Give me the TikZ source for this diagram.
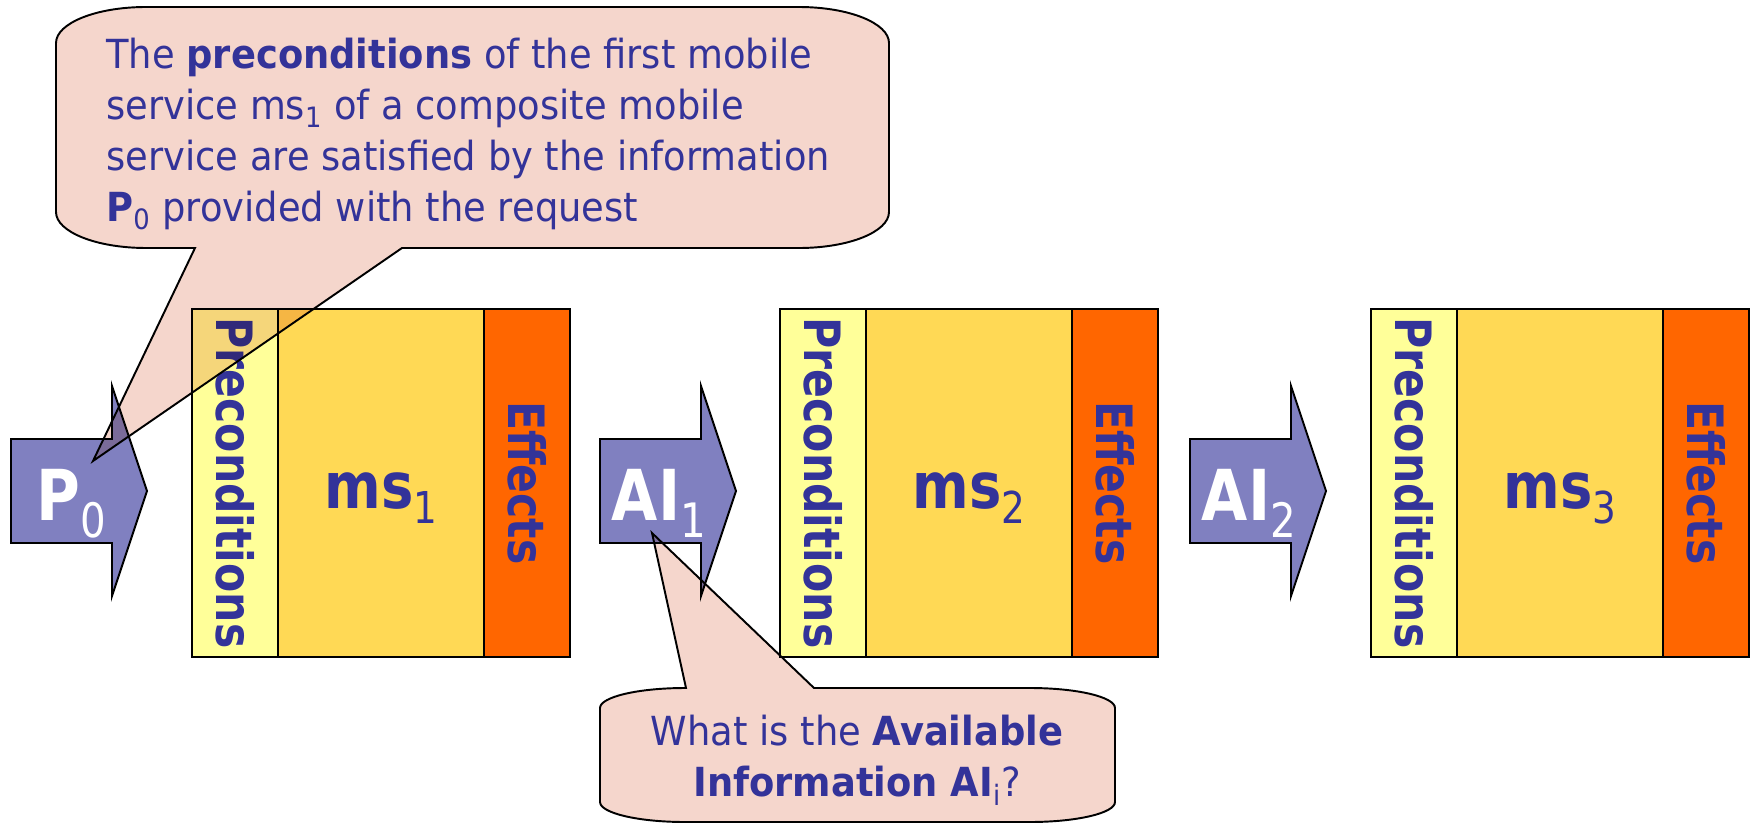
\documentclass[tikz,border=0pt]{standalone}
\usepackage{fontspec}
\usepackage{tikz}

\newfontfamily\boxfont[FakeStretch = 0.85]{DejaVu Sans}
\newfontfamily\notefont[FakeStretch = 0.92]{DejaVu Sans}

\definecolor{textblue}{HTML}{333399}
\definecolor{flowblue}{HTML}{8080C0}
\definecolor{prefill}{HTML}{FFFF99}
\definecolor{corefill}{HTML}{FFD955}
\definecolor{efffill}{HTML}{FF6600}
\definecolor{notefill}{HTML}{F5D6CC}

% lowered index in the big labels
\newcommand{\idx}[2][25]{\raisebox{-0.25em}{\fontsize{#1}{#1}\selectfont\mdseries #2}}

\begin{document}
\begin{tikzpicture}[x = 0.02cm, y = 0.02cm,
    strip/.style = {draw, line width = 1.1pt, rotate = -90, inner sep = 0pt,
        minimum width = 6.96cm, minimum height = 1.72cm, text = textblue,
        font = \boxfont\bfseries\fontsize{28.5}{30}\selectfont},
    pre/.style = {strip, fill = prefill},
    eff/.style = {strip, fill = efffill},
    core/.style = {draw, line width = 1.1pt, fill = corefill, inner sep = 0pt,
        minimum width = 4.12cm, minimum height = 6.96cm, text = textblue,
        text height = 1.2cm, text depth = 0.2cm,
        font = \boxfont\bfseries\fontsize{36.4}{38}\selectfont},
    flow/.style = {draw, line width = 1.1pt, fill = flowblue},
    flowtext/.style = {inner sep = 0pt, text = white,
        font = \boxfont\bfseries\fontsize{40}{42}\selectfont},
    note/.style = {draw, line width = 1.1pt, fill = notefill},
    notetext/.style = {inner sep = 0pt, text = textblue,
        font = \notefont\fontsize{22.8}{29}\selectfont}]

    \useasboundingbox (0, 0) rectangle (1753, 823);

    % the three services
    \node[pre] (pre1) at (235, 340) {Preconditions};
    \node[core] (ms1) at (381, 340) {ms\idx{1}};
    \node[eff] (eff1) at (527, 340) {Effects};

    \node[pre] (pre2) at (823, 340) {Preconditions};
    \node[core] (ms2) at (969, 340) {ms\idx{2}};
    \node[eff] (eff2) at (1115, 340) {Effects};

    \node[pre] (pre3) at (1414, 340) {Preconditions};
    \node[core] (ms3) at (1560, 340) {ms\idx{3}};
    \node[eff] (eff3) at (1706, 340) {Effects};

    % block arrows carrying the information
    \draw[flow] (11, 280) -- ++(0, 104) -- ++(101, 0) -- ++(0, 53)
        -- ++(35, -105) -- ++(-35, -105) -- ++(0, 53) -- cycle;
    \draw[flow] (600, 280) -- ++(0, 104) -- ++(101, 0) -- ++(0, 53)
        -- ++(35, -105) -- ++(-35, -105) -- ++(0, 53) -- cycle;
    \draw[flow] (1190, 280) -- ++(0, 104) -- ++(101, 0) -- ++(0, 53)
        -- ++(35, -105) -- ++(-35, -105) -- ++(0, 53) -- cycle;

    \node[flowtext, anchor = base] (p0) at (71, 303) {P\idx[27]{0}};
    \node[flowtext, anchor = base] (ai1) at (659, 303) {AI\idx[27]{1}};
    \node[flowtext, anchor = base] (ai2) at (1249, 303) {AI\idx[27]{2}};

    \coordinate (tip0) at (93, 362);
    \coordinate (tip1) at (652, 290);

    % speech bubbles
    \begin{scope}[blend mode = multiply]
        \draw[note] (195, 575) -- (tip0) -- (402, 575) -- (799, 575)
            arc[start angle = 270, end angle = 360, x radius = 1.8cm, y radius = 0.72cm]
            -- (889, 780)
            arc[start angle = 0, end angle = 90, x radius = 1.8cm, y radius = 0.72cm]
            -- (146, 816)
            arc[start angle = 90, end angle = 180, x radius = 1.8cm, y radius = 0.72cm]
            -- (56, 611)
            arc[start angle = 180, end angle = 270, x radius = 1.8cm, y radius = 0.72cm]
            -- cycle;
        \draw[note] (686, 135) -- (tip1) -- (814, 135) -- (1030, 135)
            arc[start angle = 90, end angle = 0, x radius = 1.7cm, y radius = 0.4cm]
            -- (1115, 21)
            arc[start angle = 0, end angle = -90, x radius = 1.7cm, y radius = 0.4cm]
            -- (685, 1)
            arc[start angle = 270, end angle = 180, x radius = 1.7cm, y radius = 0.4cm]
            -- (600, 115)
            arc[start angle = 180, end angle = 90, x radius = 1.7cm, y radius = 0.4cm]
            -- cycle;
    \end{scope}

    \node[notetext, align = left, anchor = north west] (note1) at (106, 785)
        {The \textbf{preconditions} of the first mobile\\
         service ms\textsubscript{1} of a composite mobile\\
         service are satisfied by the information\\
         \textbf{P}\textsubscript{0} provided with the request};
    \node[notetext, align = center, anchor = north] (note2) at (857, 108)
        {What is the \textbf{Available}\\
         \textbf{Information AI}\textsubscript{i}?};
\end{tikzpicture}
\end{document}
